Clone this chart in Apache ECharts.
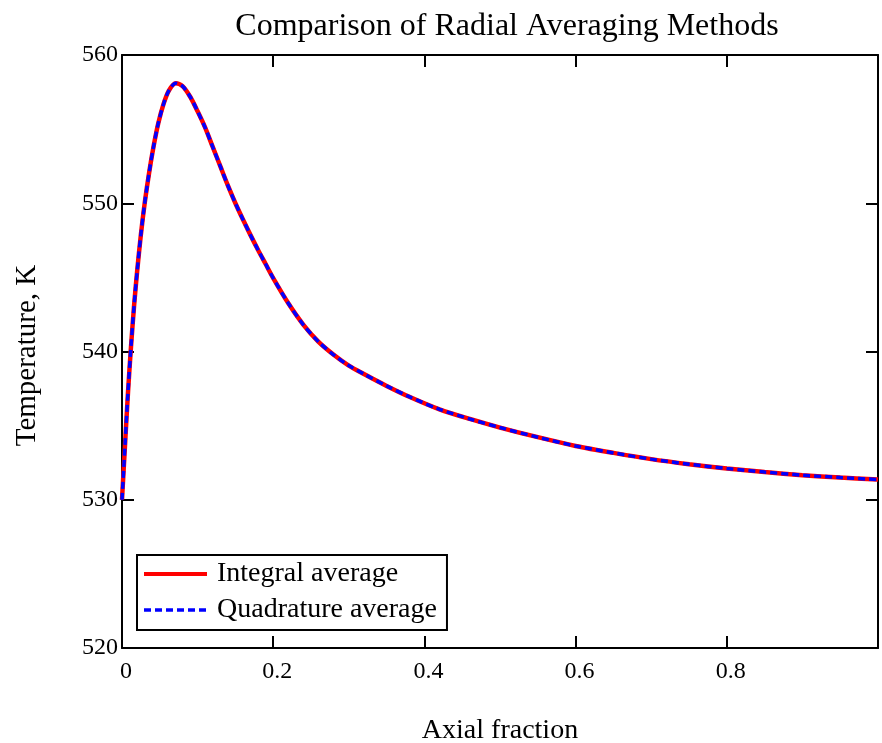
<!DOCTYPE html>
<html>
<head>
<meta charset="utf-8">
<script src="https://cdn.jsdelivr.net/npm/echarts@6/dist/echarts.min.js"></script>
<style>html,body{margin:0;padding:0;background:#fff}#c{width:882px;height:743px}</style>
</head>
<body>
<div id="c"></div>
<script>
const axialFraction = [0, 0.004, 0.008, 0.012, 0.016, 0.02, 0.025, 0.03, 0.036, 0.042, 0.048, 0.055, 0.062, 0.071, 0.08, 0.09, 0.1, 0.11, 0.12, 0.13, 0.14, 0.15, 0.16, 0.17, 0.18, 0.19, 0.2, 0.22, 0.24, 0.26, 0.28, 0.3, 0.32, 0.35, 0.38, 0.42, 0.46, 0.5, 0.55, 0.6, 0.65, 0.7, 0.75, 0.8, 0.85, 0.9, 0.95, 1.0];
const integralAvg = [530.0, 533.7, 537.3, 540.4, 543.1, 545.4, 547.9, 550.0, 552.1, 553.9, 555.4, 556.7, 557.6, 558.1, 557.9, 557.2, 556.2, 555.1, 553.8, 552.5, 551.2, 550.0, 548.9, 547.85, 546.85, 545.9, 544.95, 543.25, 541.8, 540.65, 539.78, 539.05, 538.48, 537.68, 536.95, 536.1, 535.45, 534.87, 534.22, 533.63, 533.16, 532.74, 532.4, 532.11, 531.87, 531.66, 531.5, 531.36];
const quadratureAvg = [530.0, 533.7, 537.3, 540.4, 543.1, 545.4, 547.9, 550.0, 552.1, 553.9, 555.4, 556.7, 557.6, 558.1, 557.9, 557.2, 556.2, 555.1, 553.8, 552.5, 551.2, 550.0, 548.9, 547.85, 546.85, 545.9, 544.95, 543.25, 541.8, 540.65, 539.78, 539.05, 538.48, 537.68, 536.95, 536.1, 535.45, 534.87, 534.22, 533.63, 533.16, 532.74, 532.4, 532.11, 531.87, 531.66, 531.5, 531.36];
const seriesNames = ['Integral average', 'Quadrature average'];
const titleText = 'Comparison of Radial Averaging Methods';
const xName = 'Axial fraction';
const yName = 'Temperature, K';

const FONT = '"Liberation Serif", "Times New Roman", serif';
const axisLineStyle = { color: '#000', width: 2 };
const tickStyle = { show: true, inside: true, length: 12, lineStyle: { color: '#000', width: 2 } };

const chart = echarts.init(document.getElementById('c'), null, { renderer: 'canvas' });
chart.setOption({
  animation: false,
  backgroundColor: '#fff',
  title: {
    text: titleText,
    left: 502, top: 6, textAlign: 'center',
    textStyle: { fontFamily: FONT, fontSize: 32, fontWeight: 'normal', color: '#000' }
  },
  grid: { left: 122, right: 4, top: 55, bottom: 95, outerBoundsMode: 'none' },
  legend: {
    orient: 'vertical', left: 137, top: 555,
    data: [
      { name: seriesNames[0], itemStyle: { opacity: 0 }, lineStyle: { width: 4, color: '#ff0000' } },
      { name: seriesNames[1], itemStyle: { opacity: 0 }, lineStyle: { width: 3.5, color: '#0000ff', type: [7, 4] } }
    ],
    backgroundColor: '#fff', borderColor: '#000', borderWidth: 2, borderRadius: 0,
    padding: [5, 10, 6, 5], itemWidth: 63, itemHeight: 22, itemGap: 8,
    textStyle: { fontFamily: FONT, fontSize: 28, color: '#000', padding: [0, 0, 0, 5] }
  },
  xAxis: [{
    type: 'value', min: 0, max: 1, interval: 0.2, position: 'bottom',
    name: xName, nameLocation: 'middle', nameGap: 69,
    nameTextStyle: { fontFamily: FONT, fontSize: 28, color: '#000' },
    axisLine: { show: true, onZero: false, lineStyle: axisLineStyle },
    axisTick: tickStyle, splitLine: { show: false },
    axisLabel: { fontFamily: FONT, fontSize: 24, color: '#000', margin: 12, showMaxLabel: false,
      padding: [0, 0, 0, 8],
      formatter: v => (Math.abs(v - 1) < 1e-9 ? '' : String(+v.toFixed(1))) }
  }, {
    type: 'value', min: 0, max: 1, interval: 0.2, position: 'top',
    axisLine: { show: true, onZero: false, lineStyle: axisLineStyle },
    axisTick: tickStyle, axisLabel: { show: false }, splitLine: { show: false }
  }],
  yAxis: [{
    type: 'value', min: 520, max: 560, interval: 10, position: 'left',
    name: yName, nameLocation: 'middle', nameGap: 80, nameRotate: 90,
    nameTextStyle: { fontFamily: FONT, fontSize: 29, color: '#000', padding: [0, 8, 0, 0] },
    axisLine: { show: true, onZero: false, lineStyle: axisLineStyle },
    axisTick: tickStyle, splitLine: { show: false },
    axisLabel: { fontFamily: FONT, fontSize: 24, color: '#000', margin: 4, padding: [8, 0, 0, 0] }
  }, {
    type: 'value', min: 520, max: 560, interval: 10, position: 'right',
    axisLine: { show: true, onZero: false, lineStyle: axisLineStyle },
    axisTick: tickStyle, axisLabel: { show: false }, splitLine: { show: false }
  }],
  series: [{
    name: seriesNames[0], type: 'line', xAxisIndex: 0, yAxisIndex: 0,
    data: axialFraction.map((x, i) => [x, integralAvg[i]]),
    smooth: 0.3, symbol: 'none', showSymbol: false,
    itemStyle: { color: '#ff0000' },
    lineStyle: { color: '#ff0000', width: 4.5 }
  }, {
    name: seriesNames[1], type: 'line', xAxisIndex: 0, yAxisIndex: 0,
    data: axialFraction.map((x, i) => [x, quadratureAvg[i]]),
    smooth: 0.3, symbol: 'none', showSymbol: false,
    itemStyle: { color: '#0000ff' },
    lineStyle: { color: '#0000ff', width: 3.5, type: [7, 4], cap: 'butt' }
  }]
});
</script>
</body>
</html>
